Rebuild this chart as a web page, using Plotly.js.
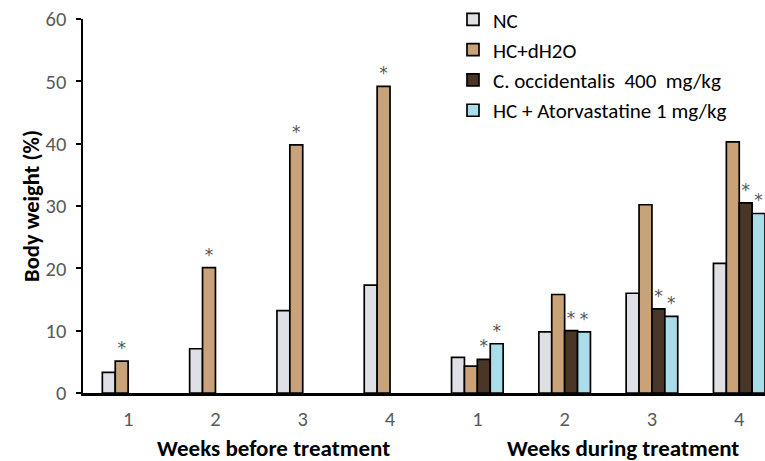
<!DOCTYPE html>
<html><head><meta charset="utf-8">
<script src="https://cdn.plot.ly/plotly-3.0.1.min.js"></script>
<style>html,body{margin:0;padding:0;background:#fff}#chart{width:765px;height:461px}</style>
</head><body><div id="chart"></div><script>
const weekLabels = ['1','2','3','4','1','2','3','4'];
const periods = ['Weeks before treatment','Weeks before treatment','Weeks before treatment','Weeks before treatment',
                 'Weeks during treatment','Weeks during treatment','Weeks during treatment','Weeks during treatment'];
const seriesNames = ['NC','HC+dH2O','C. occidentalis  400  mg/kg','HC + Atorvastatine 1 mg/kg'];
const ncValues     = [3.3, 7.1, 13.2, 17.3, 5.7, 9.8, 16.0, 20.8];
const hcValues     = [5.1, 20.1, 39.8, 49.2, 4.3, 15.8, 30.2, 40.3];
const coccValues   = [null, null, null, null, 5.4, 10.0, 13.5, 30.5];
const atorvaValues = [null, null, null, null, 7.9, 9.8, 12.3, 28.8];
const ncMarks     = ['','','','','','','',''];
const hcMarks     = ['*','*','*','*','','','',''];
const coccMarks   = ['','','','','*','*','*','*'];
const atorvaMarks = ['','','','','*','*','*','*'];

const colors = ['#dfe0e5','#c9a27a','#4a3627','#a8dde9'];
const xs = weekLabels.map((_, i) => i);
const font = 'Carlito, "Open Sans", Lato, sans-serif';
const allVals = [ncValues, hcValues, coccValues, atorvaValues];
const allMarks = [ncMarks, hcMarks, coccMarks, atorvaMarks];

const data = allVals.map((v, k) => ({
  type: 'bar', x: xs, y: v, name: seriesNames[k],
  text: allMarks[k], textposition: 'outside', constraintext: 'none', cliponaxis: false,
  textfont: {family: 'DejaVu Sans, sans-serif', size: 17, color: '#555'},
  marker: {color: colors[k], line: {color: '#000', width: 1.7}},
  hoverinfo: 'skip'
}));

// group labels placed at the mean position of each period's categories
const uniq = [...new Set(periods)];
const annotations = uniq.map(p => {
  const idx = xs.filter(i => periods[i] === p);
  const mid = idx.reduce((a, b) => a + b, 0) / idx.length;
  return {text: '<b>' + p + '</b>', x: mid + 0.17, xref: 'x', y: -0.147, yref: 'paper',
          yanchor: 'middle', showarrow: false, font: {family: font, size: 23, color: '#000'}};
});

const layout = {
  width: 765, height: 461,
  margin: {l: 83, r: 0, t: 19, b: 68, autoexpand: false},
  paper_bgcolor: '#fff', plot_bgcolor: '#fff',
  barmode: 'group', bargap: 0.409, bargroupgap: 0,
  showlegend: true,
  legend: {x: (453 - 83) / 682, y: 1.053, xanchor: 'left', yanchor: 'top',
           bgcolor: 'rgba(0,0,0,0)', font: {family: font, size: 21, color: '#000'}, tracegroupgap: 0},
  xaxis: {range: [-0.517, 7.295], tickmode: 'array', tickvals: xs, ticktext: weekLabels,
          showline: true, linecolor: '#000', linewidth: 2.5, ticks: '', showgrid: false, zeroline: false,
          tickfont: {family: font, size: 20.5, color: '#595959'}, ticklabelstandoff: 6, fixedrange: true},
  yaxis: {range: [0, 60], dtick: 10, showline: true, linecolor: '#000', linewidth: 2.5,
          ticks: 'outside', ticklen: 5, tickwidth: 2, tickcolor: '#000', showgrid: false, zeroline: false,
          tickfont: {family: font, size: 20.5, color: '#595959'}, ticklabelstandoff: 5,
          title: {text: '<b>Body weight (%)</b>', font: {family: font, size: 22.5, color: '#000'}, standoff: 0},
          fixedrange: true},
  annotations: annotations
};
Plotly.newPlot('chart', data, layout, {displayModeBar: false, staticPlot: true});
</script></body></html>
